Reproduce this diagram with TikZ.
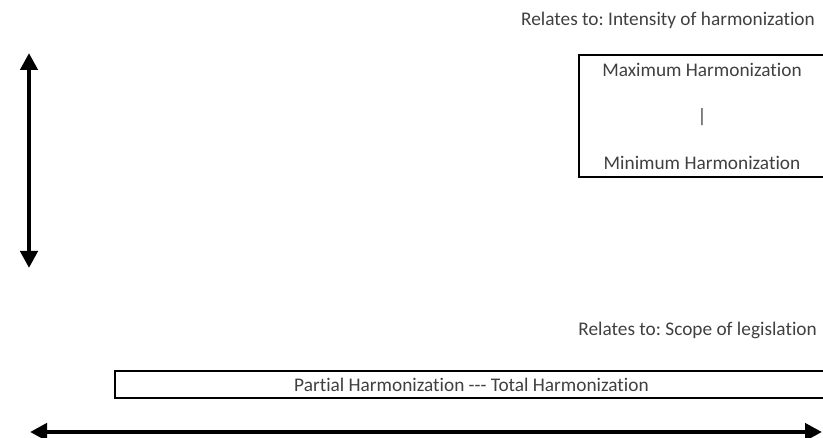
\documentclass[tikz,border=0pt]{standalone}
\usepackage{fontspec}
\setmainfont[Ligatures={NoCommon}]{Carlito}
\usepackage{tikz}
\usetikzlibrary{arrows.meta,positioning,calc}
\definecolor{txtgray}{HTML}{404040}
\frenchspacing
\tikzset{
  harmbox/.style={
    draw,
    line width=2.5pt,
    align=center,
    inner sep=0pt,
    text=txtgray,
    font=\fontsize{19.3}{23}\selectfont
  },
  harmtext/.style={
    inner sep=0pt,
    text=txtgray,
    font=\fontsize{19.3}{23}\selectfont
  },
  harmarrow/.style={
    {Triangle[length=17pt,width=17pt]}-{Triangle[length=17pt,width=17pt]},
    line width=4.5pt
  }
}

\begin{document}
\begin{tikzpicture}[x=1pt,y=-1pt]
      \useasboundingbox (0,0) rectangle (823,438);
      % intensity of harmonization
      \node[harmtext,anchor=east] (intrel) at (815,20)
        {Relates to: Intensity of harmonization};
      \node[harmbox,minimum width=249pt,minimum height=122pt] (intbox)
        at (703.5,116) {};
      \node[harmtext] (maxh) at (702,70) {Maximum Harmonization};
      \node[harmtext] (sep) at (702,117) {|};
      \node[harmtext] (minh) at (702,163) {Minimum Harmonization};
      \coordinate (vtop) at (29,53);
      \coordinate (vbot) at (29,268);
      \draw[harmarrow] (vtop) -- (vbot);
      % scope of legislation
      \node[harmtext,anchor=east] (scoperel) at (817,330)
        {Relates to: Scope of legislation};
      \node[harmbox,minimum width=713pt,minimum height=27pt] (scopebox)
        at (471.5,384.5) {Partial Harmonization -{}-{}- Total Harmonization};
      \coordinate (hleft) at (30,432);
      \coordinate (hright) at (822,432);
      \draw[harmarrow] (hleft) -- (hright);
    \end{tikzpicture}
\end{document}
